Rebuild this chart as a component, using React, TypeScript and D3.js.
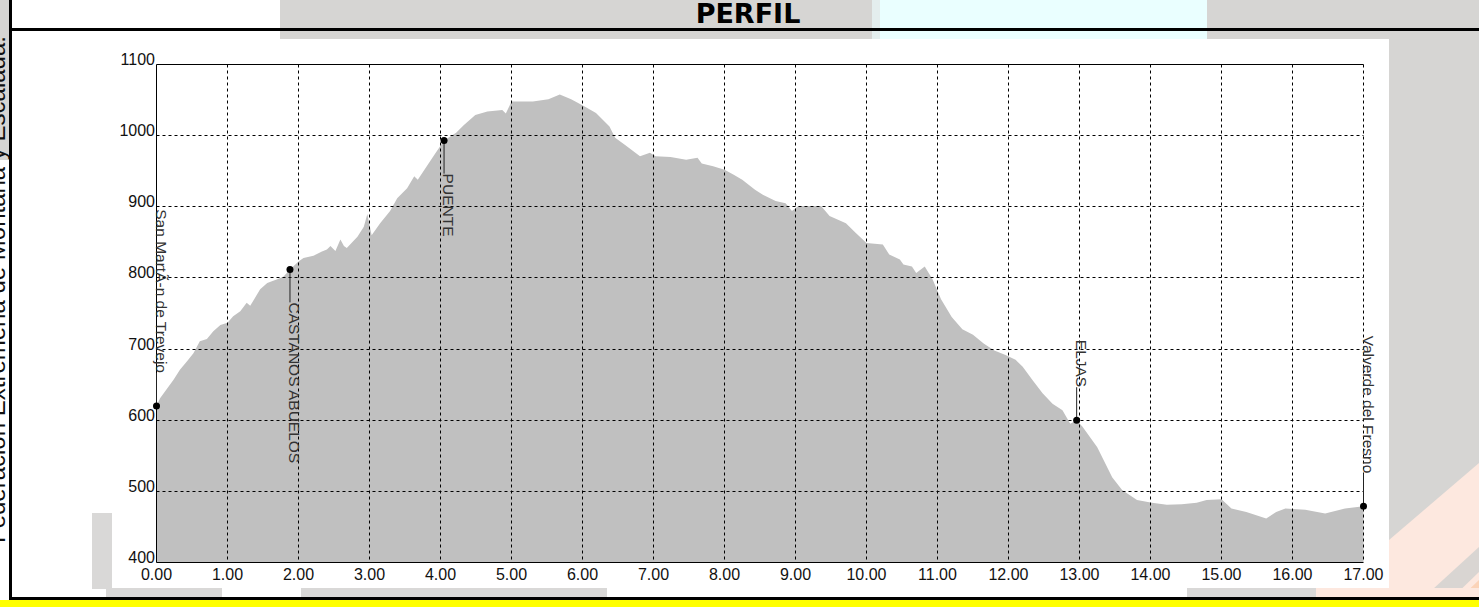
import React from 'react';
import * as d3 from 'd3';

// Elevation profile (distance in km, elevation in m)
const distanceKm = [
  0.0, 0.05, 0.14, 0.24, 0.33, 0.43, 0.52, 0.61, 0.71, 0.8, 0.9, 1.0, 1.08, 1.18, 1.27, 1.32, 1.46, 1.56, 1.7, 1.79,
  1.88, 2.0, 2.07, 2.21, 2.33, 2.4, 2.45, 2.52, 2.59, 2.64, 2.68, 2.83, 2.92, 2.97, 3.03, 3.15, 3.29, 3.39, 3.53, 3.63,
  3.68, 3.9, 4.05, 4.22, 4.33, 4.49, 4.66, 4.87, 4.92, 5.0, 5.3, 5.52, 5.68, 5.84, 6.03, 6.19, 6.38, 6.46, 6.6, 6.81,
  6.95, 7.03, 7.24, 7.46, 7.62, 7.68, 7.84, 8.0, 8.13, 8.25, 8.43, 8.54, 8.72, 8.86, 8.95, 9.04, 9.36, 9.48, 9.71, 9.85,
  10.0, 10.23, 10.32, 10.47, 10.52, 10.64, 10.7, 10.82, 10.93, 11.05, 11.2, 11.35, 11.5, 11.65, 11.8, 11.95, 12.1, 12.2, 12.34, 12.48,
  12.62, 12.76, 12.87, 12.96, 13.04, 13.25, 13.46, 13.6, 13.81, 14.02, 14.23, 14.44, 14.65, 14.79, 15.0, 15.14, 15.35, 15.63, 15.77, 15.9,
  16.18, 16.46, 16.74, 17.0,
];
const elevationM = [
  620, 631, 643, 657, 671, 683, 694, 711, 714, 725, 734, 737, 746, 753, 765, 761, 784, 793, 798, 802,
  812, 823, 828, 831, 837, 840, 845, 838, 854, 845, 842, 858, 872, 890, 860, 877, 894, 912, 926, 943,
  938, 971, 993, 1004, 1015, 1029, 1034, 1036, 1031, 1048, 1048, 1051, 1058, 1051, 1041, 1032, 1013, 997, 987, 971,
  976, 971, 970, 966, 969, 961, 957, 952, 945, 938, 924, 917, 908, 905, 894, 901, 901, 887, 877, 863,
  849, 847, 833, 826, 819, 816, 807, 816, 798, 770, 745, 728, 720, 708, 698, 692, 685, 675, 656, 638,
  623, 614, 595, 600, 591, 562, 520, 502, 488, 484, 481, 482, 484, 488, 489, 476, 471, 462, 471, 476,
  474, 469, 476, 479,
];

const xTicks = [0, 1, 2, 3, 4, 5, 6, 7, 8, 9, 10, 11, 12, 13, 14, 15, 16, 17];
const yTicks = [400, 500, 600, 700, 800, 900, 1000, 1100];

const waypointNames = ['San MartÃ-n de Trevejo', 'CASTANOS ABUELOS', 'PUENTE', 'ELJAS', 'Valverde del Fresno'];
const waypointKm = [0, 1.88, 4.05, 12.96, 17];
const waypointElev = [620, 812, 993, 600, 479];
const waypointSide = ['above', 'below', 'below', 'above', 'above'];

const titleText = 'PERFIL';
const sideText = 'Federación Extremeña de Montaña y Escalada.';

export default function App() {
  const W = 1479;
  const H = 607;
  const x = d3.scaleLinear().domain([0, 17]).range([156.5, 1363.5]);
  const y = d3.scaleLinear().domain([400, 1100]).range([562.5, 64.5]);
  const data = distanceKm.map((d, i) => [d, elevationM[i]] as [number, number]);
  const area = d3
    .area<[number, number]>()
    .x((d) => x(d[0]))
    .y0(y(400))
    .y1((d) => y(d[1]));
  const ly = (v: number) => Math.round(y(v) - 0.5) + 0.5;
  const font = "'Liberation Sans', Arial, sans-serif";

  return (
    <svg
      width={W}
      height={H}
      style={{ position: 'absolute', left: 0, top: 0, display: 'block' }}
      xmlns="http://www.w3.org/2000/svg"
    >
      {/* page background */}
      <rect x={0} y={0} width={W} height={H} fill="#ffffff" />
      {/* header bands */}
      <rect x={280} y={0} width={598} height={39} fill="#d6d5d3" />
      <rect x={872} y={0} width={8} height={39} fill="#e4eeee" />
      <rect x={880} y={0} width={327} height={39} fill="#eaffff" />
      <rect x={1207} y={0} width={272} height={39} fill="#d6d5d3" />
      {/* right gray side */}
      <rect x={1389} y={39} width={90} height={560} fill="#d6d5d3" />
      <polygon points="1389,540 1479,463 1479,600 1389,600" fill="#fde8df" />
      <polygon points="1421,600 1479,547 1479,572 1450,600" fill="#d9d5d2" />
      <polygon points="1458,600 1479,580 1479,600" fill="#fbd3b8" />
      {/* bottom strips */}
      <rect x={92} y={513} width={20} height={76} fill="#d9d8d7" />
      <rect x={106} y={588} width={116} height={9} fill="#d9d8d7" />
      <rect x={301} y={588} width={306} height={9} fill="#d9d8d7" />
      <rect x={1187} y={588} width={129} height={9} fill="#d9d8d7" />
      <rect x={1316} y={588} width={163} height={9} fill="#fde8df" />
      {/* left strip */}
      <rect x={0} y={0} width={9} height={160} fill="#d6d5d3" />
      <text
        transform={`translate(5,543) rotate(-90)`}
        fontFamily={font}
        fontSize={24}
        fill="#111"
      >
        {sideText}
      </text>
      {/* frame lines */}
      <rect x={9} y={0} width={3} height={600} fill="#000" />
      <rect x={9} y={28} width={W - 9} height={3} fill="#000" />
      <rect x={9} y={597} width={W - 9} height={3} fill="#000" />
      <rect x={0} y={600} width={W} height={7} fill="#ffff00" />
      <text
        x={748}
        y={23}
        textAnchor="middle"
        fontFamily="'DejaVu Sans', Verdana, sans-serif"
        fontWeight="bold"
        fontSize={27}
        fill="#000"
      >
        {titleText}
      </text>

      {/* profile area */}
      <path d={area(data) || ''} fill="#c0c0c0" />

      {/* grid */}
      {yTicks
        .filter((v) => v !== 400 && v !== 1100)
        .map((v) => (
          <line
            key={'gy' + v}
            x1={x(0)}
            x2={x(17)}
            y1={ly(v)}
            y2={ly(v)}
            stroke="#000"
            strokeWidth={1}
            strokeDasharray="3,3"
          />
        ))}
      {xTicks
        .filter((v) => v !== 0)
        .map((v) => (
          <line
            key={'gx' + v}
            x1={x(v)}
            x2={x(v)}
            y1={ly(1100)}
            y2={ly(400)}
            stroke="#000"
            strokeWidth={1}
            strokeDasharray="3,3"
          />
        ))}
      {/* axes */}
      <line x1={x(0)} x2={x(0)} y1={ly(1100)} y2={ly(400)} stroke="#000" strokeWidth={1} />
      <line x1={x(0)} x2={x(17)} y1={ly(400)} y2={ly(400)} stroke="#000" strokeWidth={1} />
      <line x1={x(0)} x2={x(17)} y1={ly(1100)} y2={ly(1100)} stroke="#000" strokeWidth={1} />

      {/* tick labels */}
      {xTicks.map((v) => (
        <text
          key={'tx' + v}
          x={x(v)}
          y={580}
          textAnchor="middle"
          fontFamily={font}
          fontSize={16}
          fill="#111"
        >
          {v.toFixed(2)}
        </text>
      ))}
      {yTicks.map((v) => (
        <text
          key={'ty' + v}
          x={155}
          y={y(v) + 0.5}
          textAnchor="end"
          fontFamily={font}
          fontSize={16}
          fill="#111"
        >
          {v}
        </text>
      ))}

      {/* waypoints */}
      {waypointNames.map((name, i) => {
        const px = x(waypointKm[i]);
        const py = y(waypointElev[i]);
        const below = waypointSide[i] === 'below';
        const ty = below ? py + 33 : py - 33;
        return (
          <g key={'wp' + i}>
            <line x1={px} x2={px} y1={py} y2={ty} stroke="#222" strokeWidth={1} />
            <circle cx={px} cy={py} r={3.5} fill="#000" />
            <text
              transform={`translate(${px - 1},${ty}) rotate(90)`}
              textAnchor={below ? 'start' : 'end'}
              fontFamily={font}
              fontSize={15.5}
              fill="#333"
            >
              {name}
            </text>
          </g>
        );
      })}
    </svg>
  );
}
